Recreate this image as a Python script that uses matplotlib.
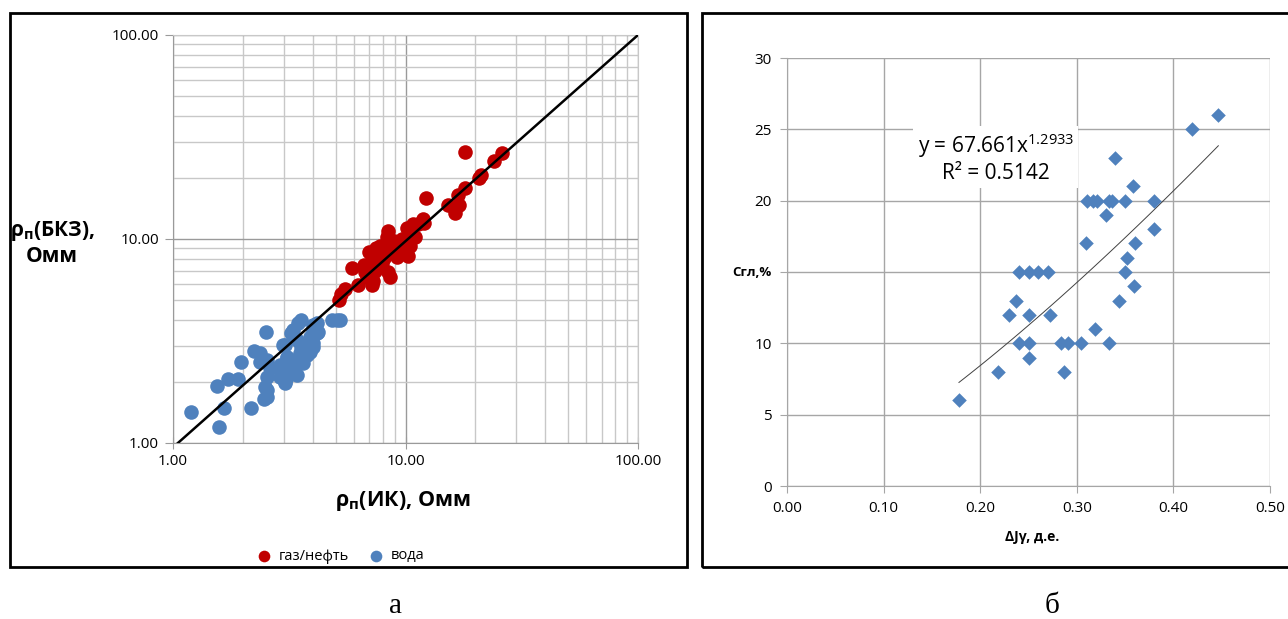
import numpy as np
import matplotlib
matplotlib.use("Agg")
import matplotlib.pyplot as plt
from matplotlib.patches import Rectangle
from matplotlib.ticker import FixedLocator, FixedFormatter, NullFormatter, LogLocator

plt.rcParams['font.family'] = ['Open Sans', 'DejaVu Sans']
plt.rcParams['mathtext.fontset'] = 'custom'
plt.rcParams['mathtext.rm'] = 'Open Sans'
plt.rcParams['mathtext.it'] = 'Open Sans:italic'
plt.rcParams['mathtext.bf'] = 'Open Sans:bold'

# --- panel a: resistivity, induction log vs lateral sounding ---
gas_oil_ik = [18.0, 26.0, 24.0, 21.1, 20.7, 18.0, 16.8, 17.0, 16.3, 15.3,
              12.3, 11.9, 11.3, 10.8, 10.1, 10.4, 10.5, 10.3, 9.8, 9.5,
              9.0, 8.6, 8.45, 8.3, 8.2, 7.8, 7.8, 7.5, 7.6, 7.0,
              7.2, 8.1, 8.6, 8.45, 7.25, 7.15, 6.6, 5.9, 6.7, 6.25,
              5.5, 5.3, 5.2, 9.2, 9.7, 8.9, 10.0, 11.0, 12.0, 7.4,
              7.9, 9.3, 6.8]
gas_oil_bkz = [26.7, 26.4, 24.1, 20.6, 20.0, 17.8, 16.4, 14.7, 13.4, 14.7,
               15.9, 12.6, 11.9, 11.8, 11.3, 10.6, 9.2, 8.3, 8.8, 9.3,
               9.0, 9.6, 11.0, 10.2, 8.8, 9.2, 8.3, 9.0, 7.5, 8.6,
               7.9, 8.1, 6.5, 6.9, 6.2, 5.95, 7.45, 7.2, 6.9, 5.95,
               5.7, 5.4, 5.0, 8.2, 10.0, 9.8, 9.5, 10.2, 12.0, 7.0,
               7.6, 8.7, 6.5]
water_ik = [1.20, 1.58, 1.65, 1.54, 1.73, 1.91, 1.96, 2.16, 2.47, 2.24,
            2.37, 2.51, 2.37, 2.53, 2.53, 2.49, 2.61, 2.98, 3.08, 2.93,
            2.88, 3.03, 3.08, 3.13, 3.35, 3.29, 3.40, 3.23, 3.46, 3.57,
            3.40, 3.57, 3.52, 3.76, 3.88, 4.01, 3.76, 3.64, 4.15, 4.21,
            4.01, 3.88, 4.82, 5.23, 5.05, 3.29, 4.00, 4.15, 4.00, 3.03,
            3.08, 2.88, 3.29, 3.03, 3.08, 3.52, 2.53, 2.53]
water_bkz = [1.42, 1.20, 1.48, 1.90, 2.07, 2.05, 2.50, 1.48, 1.64, 2.82,
             2.77, 3.49, 2.50, 2.55, 2.11, 1.89, 2.32, 3.02, 2.65, 2.37,
             2.11, 2.00, 2.11, 2.37, 2.55, 2.24, 2.15, 3.45, 3.86, 4.00,
             3.20, 2.96, 2.65, 3.08, 3.31, 3.58, 2.70, 2.46, 3.86, 3.51,
             2.96, 2.80, 4.00, 4.00, 4.00, 3.58, 3.79, 3.45, 3.08, 3.02,
             2.60, 2.41, 2.28, 1.96, 2.20, 2.75, 1.82, 1.69]
line_ik = [1.05, 100.0]
line_bkz = [1.0, 100.0]
log_ticks = [1, 10, 100]
log_tick_labels = ["1.00", "10.00", "100.00"]

# --- panel b: clay content vs gamma-ray index ---
dj = [0.178, 0.218, 0.230, 0.237, 0.240, 0.250, 0.2595, 0.270, 0.250, 0.2726,
      0.240, 0.250, 0.250, 0.284, 0.2905, 0.304, 0.287, 0.319, 0.3337, 0.3437,
      0.3596, 0.350, 0.3524, 0.360, 0.310, 0.380, 0.330, 0.3585, 0.340, 0.3102,
      0.3165, 0.3206, 0.3333, 0.3368, 0.3499, 0.3802, 0.4196, 0.4465]
cgl = [6, 8, 12, 13, 15, 15, 15, 15, 12, 12,
       10, 10, 9, 10, 10, 10, 8, 11, 10, 13,
       14, 15, 16, 17, 17, 18, 19, 21, 23, 20,
       20, 20, 20, 20, 20, 20, 25, 26]
fit_a, fit_b, fit_r2 = 67.661, 1.2933, 0.5142
dj_ticks = [0.0, 0.1, 0.2, 0.3, 0.4, 0.5]
cgl_ticks = [0, 5, 10, 15, 20, 25, 30]
# the axis title sits where the "15" label would be
cgl_tick_labels = ['0', '5', '10', '', '20', '25', '30']

RED = '#C00000'
BLUE = '#4F81BD'

fig = plt.figure(figsize=(12.88, 6.19), dpi=100)

# panel frames
fig.patches.append(Rectangle((10 / 1288, 1 - 567 / 619), 677 / 1288, 554 / 619,
                             transform=fig.transFigure, fill=False, lw=2, ec='black'))
fig.patches.append(Rectangle((702 / 1288, 1 - 567 / 619), 620 / 1288, 554 / 619,
                             transform=fig.transFigure, fill=False, lw=2, ec='black'))

# ---------------- panel a ----------------
ax1 = fig.add_axes([173 / 1288, 1 - 443 / 619, 465 / 1288, 408 / 619])
ax1.set_xscale('log')
ax1.set_yscale('log')
ax1.set_xlim(1, 100)
ax1.set_ylim(1, 100)
ax1.scatter(gas_oil_ik, gas_oil_bkz, s=110, color=RED, lw=0, label='газ/нефть', zorder=3)
ax1.scatter(water_ik, water_bkz, s=110, color=BLUE, lw=0, label='вода', zorder=3)
ax1.plot(line_ik, line_bkz, color='black', lw=1.8, zorder=4)

for axis in (ax1.xaxis, ax1.yaxis):
    axis.set_major_locator(FixedLocator(log_ticks))
    axis.set_major_formatter(FixedFormatter(log_tick_labels))
    axis.set_minor_locator(LogLocator(base=10, subs=np.arange(2, 10)))
    axis.set_minor_formatter(NullFormatter())
ax1.grid(which='major', color='#9a9a9a', lw=1)
ax1.grid(which='minor', color='#c8c8c8', lw=1)
ax1.set_axisbelow(True)
for sp in ax1.spines.values():
    sp.set_color('#c8c8c8')
ax1.spines['left'].set_color('#9a9a9a')
ax1.spines['bottom'].set_color('#9a9a9a')
ax1.tick_params(which='major', length=5, color='#9a9a9a', labelsize=11, pad=4)
ax1.tick_params(which='minor', length=0)
ax1.tick_params(axis='x', direction='inout', length=8)
ax1.tick_params(axis='y', direction='out', length=6)

fig.text(403 / 1288, 1 - 501 / 619, 'ρ$_\\mathbf{п}$(ИК), Омм', fontsize=15.5,
         fontweight='bold', ha='center', va='center')
fig.text(52 / 1288, 1 - 243 / 619, 'ρ$_\\mathbf{п}$(БКЗ),\nОмм', fontsize=15,
         fontweight='bold', ha='center', va='center', linespacing=1.2)

fig.legend(handles=ax1.collections, labels=['газ/нефть', 'вода'], loc='center',
           bbox_to_anchor=(337 / 1288, 1 - 556 / 619), ncol=2, frameon=False,
           fontsize=10.5, handletextpad=0.0, columnspacing=0.9, markerscale=0.8)

# ---------------- panel b ----------------
ax2 = fig.add_axes([787 / 1288, 1 - 486 / 619, 483 / 1288, 428 / 619])
ax2.scatter(dj, cgl, marker='D', s=55, color=BLUE, lw=0, zorder=3)
fit_x = np.linspace(min(dj), max(dj), 100)
ax2.plot(fit_x, fit_a * fit_x ** fit_b, color='#404040', lw=0.7, zorder=2)
ax2.set_xlim(0, 0.5)
ax2.set_ylim(0, 30)
ax2.set_xticks(dj_ticks)
ax2.set_xticklabels([f'{v:.2f}' for v in dj_ticks])
ax2.set_yticks(cgl_ticks)
ax2.set_yticklabels(cgl_tick_labels)
ax2.grid(True, color='#a6a6a6', lw=1)
ax2.set_axisbelow(True)
for sp in ('top', 'right'):
    ax2.spines[sp].set_visible(False)
for sp in ('left', 'bottom'):
    ax2.spines[sp].set_color('#a6a6a6')
ax2.tick_params(length=5, color='#a6a6a6', labelsize=11, pad=6)

# fit label on a white box that hides the grid underneath
ax2.text(0.216, 23.0, 'y = 67.661x$^{1.2933}$\nR² = %.4f' % fit_r2, fontsize=15,
         ha='center', va='center', multialignment='center', linespacing=1.15,
         bbox=dict(facecolor='white', edgecolor='none', pad=3), zorder=5)

fig.text(752 / 1288, 1 - 272 / 619, 'Сгл,%', fontsize=9.5, fontweight='bold',
         ha='center', va='center')
fig.text(1032 / 1288, 1 - 537 / 619, 'ΔJγ, д.е.', fontsize=10, fontweight='bold',
         ha='center', va='center')

# panel captions
fig.text(395 / 1288, 1 - 606 / 619, 'а', family='Liberation Serif', fontsize=21,
         ha='center', va='center')
fig.text(1052 / 1288, 1 - 606 / 619, 'б', family='Liberation Serif', fontsize=21,
         ha='center', va='center')

fig.savefig('out.png', dpi=100)
